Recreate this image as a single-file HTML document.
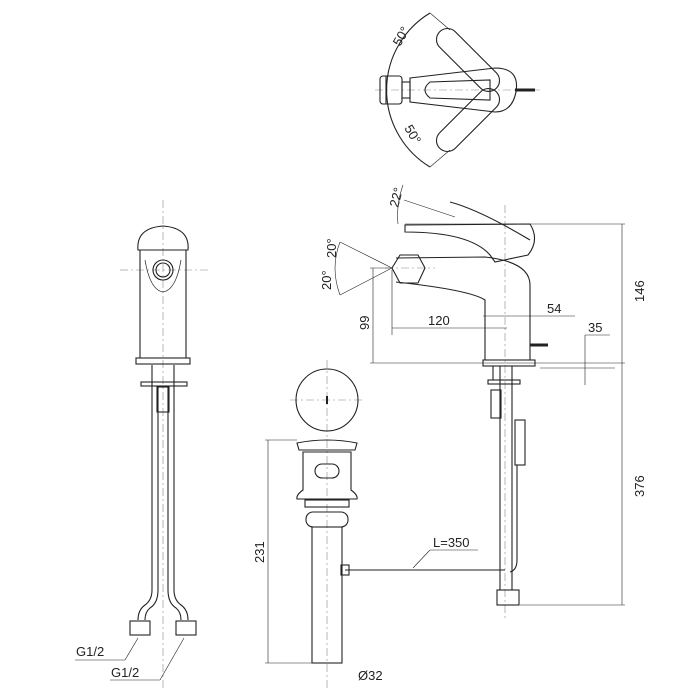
<!DOCTYPE html><html><head><style>body{margin:0;background:#fff}svg{display:block}text{font-family:"Liberation Sans",sans-serif;fill:#222}</style></head><body>
<svg width="700" height="700" viewBox="0 0 700 700" xmlns="http://www.w3.org/2000/svg" fill="none" stroke="#222" stroke-width="1.1">
<g stroke="#888" stroke-width="0.6" stroke-dasharray="8 3 2 3">
<line x1="163" y1="200" x2="163" y2="690"/><line x1="120" y1="270" x2="210" y2="270"/>
<line x1="375" y1="90" x2="540" y2="90"/><line x1="327" y1="360" x2="327" y2="690"/><line x1="290" y1="400" x2="365" y2="400"/>
<line x1="505" y1="205" x2="505" y2="620"/><line x1="385" y1="268" x2="435" y2="268"/>
</g>
<!-- top view -->
<rect x="380" y="76" width="22" height="28" rx="3"/><line x1="386" y1="76" x2="386" y2="104"/><rect x="402" y="82" width="8" height="16"/>
<path d="M410 78 L495 68 Q520 68 516 92 Q512 112 495 112 L410 102 Z"/>
<path d="M430 82 Q420 90 430 98 L490 100 L490 80 Z"/>
<rect x="-40" y="-11" width="80" height="22" rx="11" transform="translate(468 60) rotate(45)"/>
<rect x="-40" y="-11" width="80" height="22" rx="11" transform="translate(468 120) rotate(-45)"/>
<line x1="515" y1="90" x2="535" y2="90" stroke-width="3"/>
<path d="M430 13 A90 90 0 0 0 430 167"/>
<line x1="430" y1="13" x2="450" y2="30" stroke-width="0.6"/><line x1="430" y1="167" x2="450" y2="150" stroke-width="0.6"/>
<text x="400" y="47" font-size="13" transform="rotate(-60 400 47)" stroke="none">50°</text>
<text x="404" y="128" font-size="13" transform="rotate(60 404 128)" stroke="none">50°</text>
<!-- side view -->
<path d="M405 225 L530 224 Q540 240 528 255 L495 262 L490 255 Q470 232 405 232 Z"/>
<path d="M450 202 Q480 210 530 240" />
<line x1="405" y1="224" x2="625" y2="224" stroke-width="0.6"/>
<path d="M396 258 L485 257 Q530 262 530 285 L530 360 L485 360 L485 300 Q470 290 396 282"/>
<path d="M392 268 L400 255 L418 255 L425 268 L418 283 L400 283 Z"/>
<line x1="530" y1="345" x2="548" y2="345" stroke-width="3"/>
<rect x="483" y="360" width="52" height="6"/>
<line x1="404" y1="200" x2="455" y2="217" stroke-width="0.6"/><path d="M403 185 Q396 205 398 224" stroke-width="0.6"/>
<text x="398" y="208" font-size="13" transform="rotate(-75 398 208)" stroke="none">22°</text>
<line x1="340" y1="242" x2="392" y2="268" stroke-width="0.6"/><line x1="340" y1="295" x2="392" y2="268" stroke-width="0.6"/>
<path d="M340 242 Q330 268 340 295" stroke-width="0.6"/>
<text x="336" y="258" font-size="13" transform="rotate(-90 336 258)" stroke="none">20°</text>
<text x="331" y="290" font-size="13" transform="rotate(-90 331 290)" stroke="none">20°</text>
<g stroke-width="0.6">
<line x1="370" y1="363" x2="625" y2="363"/><line x1="373" y1="268" x2="373" y2="363"/><line x1="370" y1="268" x2="390" y2="268"/>
<line x1="392" y1="270" x2="392" y2="335"/><line x1="392" y1="328" x2="507" y2="328"/>
<line x1="483" y1="316" x2="575" y2="316"/><line x1="585" y1="335" x2="610" y2="335"/><line x1="585" y1="335" x2="585" y2="385"/><line x1="540" y1="368" x2="615" y2="368"/>
<line x1="622" y1="224" x2="622" y2="605"/><line x1="520" y1="605" x2="625" y2="605"/>
<line x1="268" y1="440" x2="268" y2="663"/><line x1="265" y1="440" x2="297" y2="440"/><line x1="265" y1="663" x2="312" y2="663"/>
</g>
<text x="369" y="330" font-size="13" transform="rotate(-90 369 330)" stroke="none">99</text>
<text x="428" y="325" font-size="13" stroke="none">120</text>
<text x="547" y="313" font-size="13" stroke="none">54</text>
<text x="588" y="332" font-size="13" stroke="none">35</text>
<text x="644" y="302" font-size="13" transform="rotate(-90 644 302)" stroke="none">146</text>
<text x="644" y="497" font-size="13" transform="rotate(-90 644 497)" stroke="none">376</text>
<text x="264" y="563" font-size="13" transform="rotate(-90 264 563)" stroke="none">231</text>
<text x="358" y="680" font-size="13" stroke="none">Ø32</text>
<!-- under side view -->
<line x1="493" y1="366" x2="493" y2="380"/><line x1="500" y1="366" x2="500" y2="590"/><line x1="512" y1="366" x2="512" y2="590"/>
<rect x="488" y="380" width="32" height="4"/><rect x="491" y="390" width="10" height="28"/>
<rect x="515" y="420" width="10" height="45"/><path d="M517 465 L517 560 Q517 570 510 572" />
<rect x="497" y="590" width="22" height="15"/>
<line x1="345" y1="570" x2="505" y2="570"/><rect x="341" y="565" width="8" height="10"/>
<line x1="413" y1="568" x2="430" y2="550" stroke-width="0.6"/><line x1="430" y1="550" x2="478" y2="550" stroke-width="0.6"/>
<text x="433" y="547" font-size="13" stroke="none">L=350</text>
<!-- drain -->
<circle cx="327" cy="400" r="31"/><line x1="327" y1="396" x2="327" y2="404" stroke-width="2"/>
<path d="M297 443 Q327 437 357 443 L355 450 L299 450 Z"/>
<path d="M303 452 L351 452 L351 490 Q358 495 357 499 L297 499 Q296 495 303 490 Z"/>
<rect x="315" y="464" width="24" height="14" rx="7"/>
<rect x="305" y="500" width="44" height="7"/><rect x="306" y="512" width="42" height="15" rx="7"/>
<rect x="312" y="527" width="30" height="136"/>
<!-- front view -->
<path d="M138 250 Q136 228 163 226 Q190 228 188 250 Z"/>
<path d="M140 250 L140 358 L186 358 L186 250"/><circle cx="163" cy="270" r="10"/><circle cx="163" cy="270" r="7"/>
<path d="M145 260 Q150 290 163 292 Q176 290 181 260" stroke-width="0.7"/>
<rect x="136" y="358" width="54" height="6"/><rect x="141" y="382" width="46" height="4"/>
<rect x="157" y="387" width="12" height="25"/>
<path d="M152 365 L152 590 Q152 600 145 605 Q138 610 138 620 M158 386 L158 590 Q158 603 150 608 Q145 612 145 620"/>
<path d="M174 365 L174 590 Q174 600 181 605 Q188 610 188 620 M168 386 L168 590 Q168 603 176 608 Q181 612 181 620"/>
<rect x="130" y="621" width="20" height="14"/><rect x="176" y="621" width="20" height="14"/>
<line x1="138" y1="638" x2="125" y2="660" stroke-width="0.6"/><line x1="75" y1="660" x2="125" y2="660" stroke-width="0.6"/>
<line x1="184" y1="638" x2="160" y2="680" stroke-width="0.6"/><line x1="110" y1="680" x2="160" y2="680" stroke-width="0.6"/>
<text x="76" y="656" font-size="13" stroke="none">G1/2</text>
<text x="111" y="677" font-size="13" stroke="none">G1/2</text>
</svg></body></html>
